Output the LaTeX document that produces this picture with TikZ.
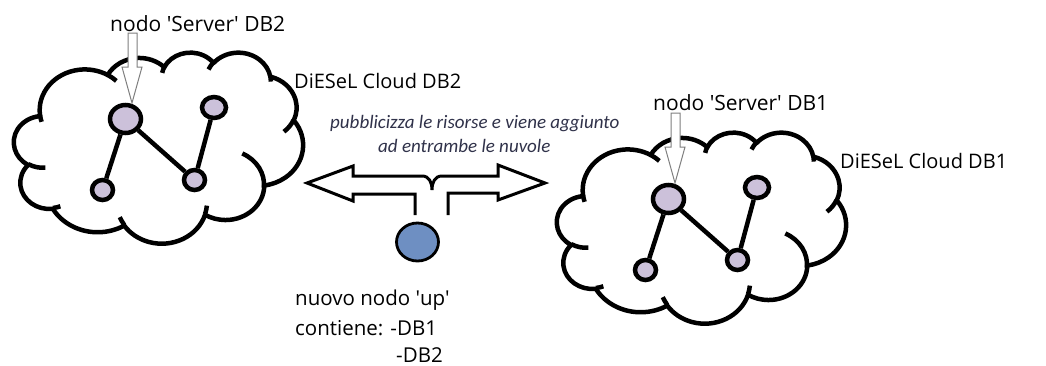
\documentclass[tikz,border=0pt]{standalone}
\usepackage{fontspec}
\usetikzlibrary{shapes.geometric}
\newfontfamily\lblfont{Open Sans}
\newfontfamily\notefont{Carlito}

% One bump of the cloud outline: elliptical arc given by radii and by
% start/sweep angles measured as real directions from the centre.
\newcommand\defcloudarc[5]{%
  \pgfmathsetmacro\cwS{atan2((#2)*sin(#4),(#3)*cos(#4))}%
  \pgfmathsetmacro\cwE{atan2((#2)*sin((#4)+(#5)),(#3)*cos((#4)+(#5)))}%
  \pgfmathsetmacro\cwD{mod(\cwE-\cwS+720,360)}%
  \edef\cwTmp{\noexpand\tikzset{#1/.style={start angle=\cwS,delta angle=\cwD,x radius=#2,y radius=#3}}}%
  \cwTmp}
% outline
\defcloudarc{ca1}{6.753}{9.190}{-190.48748}{123.78053}
\defcloudarc{ca2}{5.333}{7.267}{-144.10238}{89.94523}
\defcloudarc{ca3}{4.365}{5.945}{-145.80792}{99.72302}
\defcloudarc{ca4}{4.857}{6.595}{-130.98607}{117.24173}
\defcloudarc{ca5}{5.333}{7.273}{-78.70888}{109.02692}
\defcloudarc{ca6}{6.775}{9.220}{-46.26725}{130.26900}
\defcloudarc{ca7}{5.785}{7.867}{0.62502}{114.03333}
\defcloudarc{ca8}{6.752}{9.215}{22.45160}{115.17255}
\defcloudarc{ca9}{7.720}{10.543}{66.24263}{75.71102}
\defcloudarc{ca10}{4.360}{5.918}{-274.94208}{146.73557}
\defcloudarc{ca11}{4.345}{5.945}{-246.82850}{152.51885}
% inner curls
\defcloudarc{cc1}{4.345}{5.945}{86.74200}{26.42950}
\defcloudarc{cc2}{4.360}{5.918}{73.61047}{11.44747}
\defcloudarc{cc3}{6.752}{9.215}{137.62415}{14.08110}
\defcloudarc{cc4}{6.752}{9.215}{6.45327}{15.99835}
\defcloudarc{cc5}{5.785}{7.867}{-70.29235}{76.91060}
\defcloudarc{cc6}{5.333}{7.273}{30.31803}{27.75150}
\defcloudarc{cc7}{4.857}{6.595}{-13.74433}{14.85890}
\defcloudarc{cc8}{4.857}{6.595}{-149.18145}{18.19537}
\defcloudarc{cc9}{4.365}{5.945}{-163.49427}{17.68635}
\defcloudarc{cc10}{6.753}{9.190}{-66.70695}{12.31935}
\defcloudarc{cc11}{6.753}{9.190}{157.65435}{11.85817}

\definecolor{nodefill}{HTML}{CCC1DA}
\definecolor{upfill}{HTML}{6E8FC2}
\definecolor{notecol}{HTML}{30324A}
\definecolor{pointergray}{HTML}{7F7F7F}

\tikzset{
  cloudline/.style={line width=4.5pt, black, line join=round},
  netnode/.style={ellipse, draw=black, line width=4.5pt, fill=nodefill, inner sep=0pt},
  link/.style={line width=4.5pt, black},
  pointer/.style={draw=pointergray, line width=1pt, fill=white, line join=miter},
  lbl/.style={inner sep=0pt, anchor=base west, font=\lblfont\fontsize{21}{25}\selectfont},
  cloudlbl/.style={inner sep=0pt, anchor=base west, font=\lblfont\fontsize{20}{24}\selectfont},
  small/.style={inner sep=0pt, anchor=base west, font=\lblfont\fontsize{20.5}{24}\selectfont},
  note/.style={inner sep=0pt, anchor=base west, text=notecol, font=\notefont\itshape\fontsize{19}{23}\selectfont},
  bracket/.style={line width=3pt, black, fill=white, line join=miter},
  upnode/.style={ellipse, draw=black, line width=2.8pt, fill=upfill, inner sep=0pt,
    minimum width=42pt, minimum height=38pt},
  dieselcloud/.pic={
    \begin{scope}[shift={(14,52)}, xscale=6.690, yscale=4.421]
      \draw[cloudline, fill=white] (3.9,14.37) arc[ca1] arc[ca2] arc[ca3] arc[ca4]
        arc[ca5] arc[ca6] arc[ca7] arc[ca8] arc[ca9] arc[ca10] arc[ca11] -- cycle;
      \draw[cloudline] (4.693,26.177) arc[cc1];
      \draw[cloudline] (6.928,34.899) arc[cc2];
      \draw[cloudline] (16.478,39.090) arc[cc3];
      \draw[cloudline] (28.827,34.751) arc[cc4];
      \draw[cloudline] (34.129,22.954) arc[cc5];
      \draw[cloudline] (41.798,15.354) arc[cc6];
      \draw[cloudline] (38.324,5.426) arc[cc7];
      \draw[cloudline] (29.078,3.952) arc[cc8];
      \draw[cloudline] (22.141,4.720) arc[cc9];
      \draw[cloudline] (14.000,5.192) arc[cc10];
      \draw[cloudline] (4.127,15.789) arc[cc11];
    \end{scope}
    \node[netnode, minimum width=31pt, minimum height=28pt] (-srv) at (125.5,119) {};
    \node[netnode, minimum width=24pt, minimum height=21pt] (-tr) at (214,107.5) {};
    \node[netnode, minimum width=21pt, minimum height=20pt] (-bl) at (102.5,190) {};
    \node[netnode, minimum width=21pt, minimum height=20pt] (-bm) at (194.5,180) {};
    \draw[link] (-srv) -- (-bl);
    \draw[link] (-srv) -- (-bm);
    \draw[link] (-bm) -- (-tr);
    \coordinate (-tip) at (132,103);
    \draw[pointer] (-tip) -- ++(10,-36) -- ++(-5,0) -- ++(0,-34) -- ++(-9,0)
      -- ++(0,34) -- ++(-6,0) -- cycle;
  }
}

\begin{document}
\begin{tikzpicture}[x=1pt, y=-1pt]
  \useasboundingbox[fill=white] (0,0) rectangle (1046,365);

  \pic (L) at (0,0) {dieselcloud};
  \pic (R) at (543,80) {dieselcloud};

  \node[lbl] (srv2) at (110,31) {nodo \textquotesingle Server\textquotesingle\ DB2};
  \node[cloudlbl] (cl2) at (294,88) {DiESeL Cloud DB2};
  \node[lbl] (srv1) at (653,110) {nodo \textquotesingle Server\textquotesingle\ DB1};
  \node[cloudlbl] (cl1) at (840,168) {DiESeL Cloud DB1};

  \node[note] (n1) at (330,128) {pubblicizza le risorse e viene aggiunto};
  \node[note] (n2) at (378,152) {ad entrambe le nuvole};

  % new node and the two-way bracket arrow above it
  \node[upnode] (up) at (417.5,242) {};
  \draw[bracket] (415,215) -- (415,194) -- (353,194) -- (353,201) -- (307,183)
    -- (353,166) -- (353,176) -- (422,176)
    .. controls (429,176) and (432,182) .. (432,190)
    .. controls (432,182) and (435,176) .. (442,176)
    -- (498,176) -- (498,165) -- (545,183) -- (498,200) -- (498,193)
    -- (448,193) -- (448,215);

  \node[small] (t1) at (295,305) {nuovo nodo \textquotesingle up\textquotesingle};
  \node[small] (t2) at (295,335) {contiene: -DB1};
  \node[small] (t3) at (396,362) {-DB2};
\end{tikzpicture}
\end{document}
